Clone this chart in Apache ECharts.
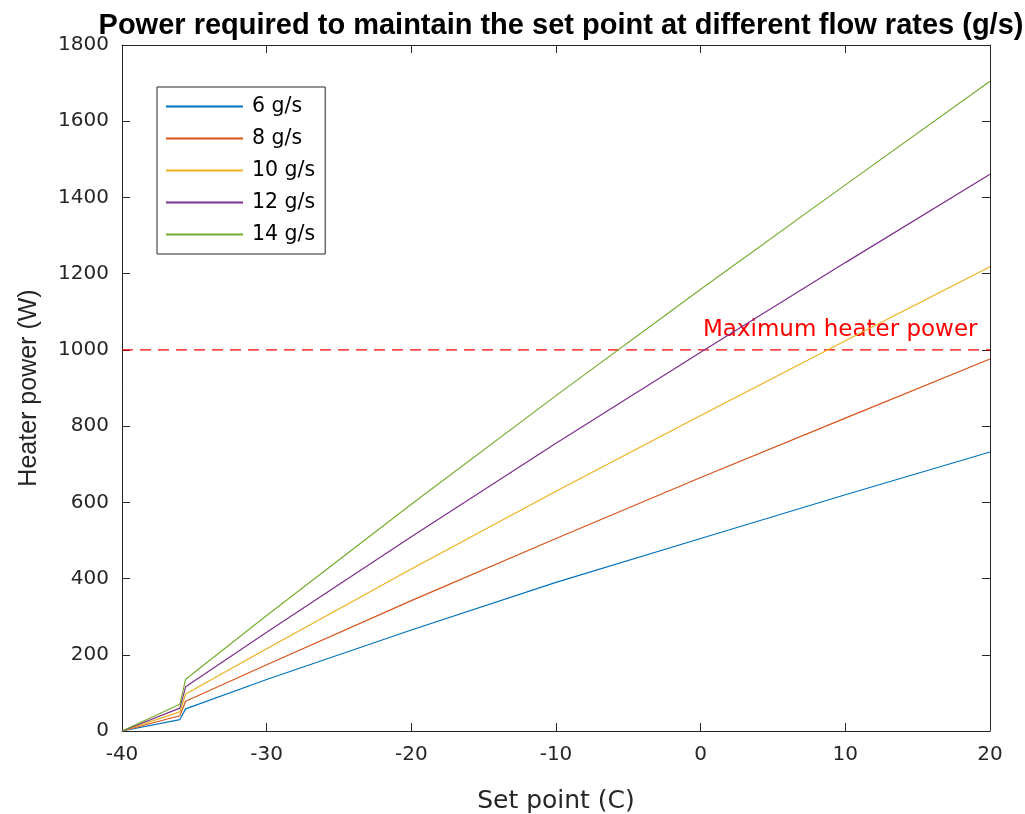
<!DOCTYPE html>
<html>
<head>
<meta charset="utf-8">
<script src="https://cdn.jsdelivr.net/npm/echarts@6/dist/echarts.min.js"></script>
<style>html,body{margin:0;padding:0;background:#fff}#c{width:1025px;height:814px}</style>
</head>
<body>
<div id="c"></div>
<script>
const setPoints = [-40, -36, -35.6, -30, -20, -10, 0, 10, 20];
const names = ['6 g/s', '8 g/s', '10 g/s', '12 g/s', '14 g/s'];
const flow6  = [0, 30, 58, 135, 265, 390, 505, 620, 732];
const flow8  = [0, 40, 78, 174, 342, 505, 665, 821, 976];
const flow10 = [0, 50, 97, 216, 425, 629, 828, 1024, 1218];
const flow12 = [0, 60, 116, 259, 510, 755, 994, 1229, 1461];
const flow14 = [0, 70, 136, 303, 595, 880, 1159, 1433, 1705];
const maxPower = 1000;
const maxLabel = 'Maximum heater power';
const colors = ['#0072BD', '#D95319', '#EDB120', '#7E2F8E', '#77AC30'];
const allSeries = [flow6, flow8, flow10, flow12, flow14];

const ARIAL = 'Liberation Sans, Arial, sans-serif';
const WIDE = 'DejaVu Sans, Liberation Sans, sans-serif';
const AX = '#262626';
const chart = echarts.init(document.getElementById('c'));

const series = allSeries.map((vals, i) => ({
  name: names[i],
  type: 'line',
  data: setPoints.map((x, j) => [x, vals[j]]),
  showSymbol: false,
  symbol: 'none',
  color: colors[i],
  lineStyle: { color: colors[i], width: 1.2 },
  itemStyle: { color: colors[i] },
  z: 3
}));
const xMin = setPoints[0], xMax = setPoints[setPoints.length - 1];
series.push({
  name: 'max',
  type: 'line',
  z: 2,
  showSymbol: false,
  symbol: 'none',
  color: '#FF0000',
  lineStyle: { color: '#FF0000', type: [11, 7], width: 1.3, opacity: 1 },
  silent: true,
  data: [[xMin, maxPower], [xMax, maxPower]]
});
series.push({
  name: 'maxLabel',
  type: 'scatter',
  silent: true,
  symbolSize: 1,
  itemStyle: { color: 'rgba(0,0,0,0)', opacity: 1 },
  label: {
    show: true, position: 'left', distance: 12, offset: [0, -20], opacity: 1,
    formatter: maxLabel, color: '#FF0000', fontSize: 23, fontFamily: WIDE
  },
  data: [[xMax, maxPower]]
});

chart.setOption({
  animation: false,
  title: {
    text: 'Power required to maintain the set point at different flow rates (g/s)',
    left: 556, top: 6, textAlign: 'center',
    textStyle: { fontFamily: ARIAL, fontSize: 29, fontWeight: 'bold', color: '#000' }
  },
  grid: { left: 122, right: 35, top: 45, bottom: 83, outerBoundsMode: 'none', containLabel: false },
  legend: {
    data: names,
    orient: 'vertical',
    left: 157, top: 87,
    padding: [9, 10, 9, 9],
    itemWidth: 77, itemHeight: 2, itemGap: 11,
    icon: 'rect',
    backgroundColor: '#fff',
    borderColor: AX, borderWidth: 1,
    textStyle: { fontFamily: WIDE, fontSize: 20.5, color: '#000', lineHeight: 21, padding: [0, 0, 0, 4] }
  },
  xAxis: [{
    type: 'value', min: -40, max: 20, interval: 10,
    name: 'Set point (C)', nameLocation: 'middle', nameGap: 58,
    nameTextStyle: { fontFamily: WIDE, fontSize: 25, color: AX },
    axisLine: { onZero: false, lineStyle: { color: AX, width: 1 } },
    axisTick: { inside: true, length: 8, lineStyle: { color: AX } },
    axisLabel: { fontFamily: WIDE, fontSize: 20, color: AX, margin: 14 },
    splitLine: { show: false }
  }, {
    type: 'value', position: 'top', min: -40, max: 20, interval: 10,
    axisLine: { show: true, onZero: false, lineStyle: { color: AX, width: 1 } },
    axisTick: { inside: true, length: 8, lineStyle: { color: AX } },
    axisLabel: { show: false }, splitLine: { show: false }
  }],
  yAxis: [{
    type: 'value', min: 0, max: 1800, interval: 200,
    name: 'Heater power (W)', nameLocation: 'middle', nameGap: 80,
    nameTextStyle: { fontFamily: ARIAL, fontSize: 25, color: AX },
    axisLine: { show: true, onZero: false, lineStyle: { color: AX, width: 1 } },
    axisTick: { show: true, inside: true, length: 8, lineStyle: { color: AX } },
    axisLabel: { fontFamily: WIDE, fontSize: 20, color: AX, margin: 13, formatter: v => String(v) },
    splitLine: { show: false }
  }, {
    type: 'value', position: 'right', min: 0, max: 1800, interval: 200,
    axisLine: { show: true, onZero: false, lineStyle: { color: AX, width: 1 } },
    axisTick: { show: true, inside: true, length: 8, lineStyle: { color: AX } },
    axisLabel: { show: false }, splitLine: { show: false }
  }],
  series: series
});
</script>
</body>
</html>
